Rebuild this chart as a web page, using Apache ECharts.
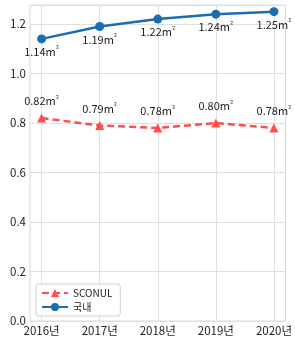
<!DOCTYPE html>
<html><head><meta charset="utf-8">
<script src="https://cdn.jsdelivr.net/npm/echarts@6/dist/echarts.min.js"></script>
<style>html,body{margin:0;padding:0;background:#fff}#c{width:295px;height:338px}</style>
</head><body><div id="c"></div>
<script>
const years = ['2016년','2017년','2018년','2019년','2020년'];
const sconul = [0.82, 0.79, 0.78, 0.80, 0.78];
const domestic = [1.14, 1.19, 1.22, 1.24, 1.25];
const yTicks = [0, 0.2, 0.4, 0.6, 0.8, 1.0, 1.2];

const font = "'Noto Sans CJK KR', 'Noto Sans', sans-serif";
const chart = echarts.init(document.getElementById('c'), null, {renderer:'canvas'});
const idx = years.map((_, i) => i);
const labelRich = {
  a: {fontSize: 11, color: '#222', fontFamily: font},
  b: {fontSize: 8, color: '#222', fontFamily: font, padding: [0, 0, 5, 0]}
};
const fmt = p => '{a|' + p.value[1].toFixed(2) + 'm}{b|²}';
chart.setOption({
  animation: false,
  textStyle: {fontFamily: font},
  grid: {left: 30, right: 6, top: 5, bottom: 17, show: true, borderColor: '#d9d9d9', borderWidth: 1},
  xAxis: {
    type: 'value', min: -0.2, max: 4.2,
    axisLine: {show: false},
    axisTick: {show: false, customValues: idx},
    axisLabel: {customValues: idx, formatter: v => years[Math.round(v)] || '', color: '#222', fontSize: 11.5, margin: 4, fontFamily: font},
    splitLine: {show: true, lineStyle: {color: '#e0e0e0', width: 1}}
  },
  yAxis: {
    type: 'value', min: 0, max: 1.277, interval: 0.2,
    axisLine: {show: false}, axisTick: {show: false},
    axisLabel: {customValues: yTicks, formatter: v => v.toFixed(1), color: '#222', fontSize: 11.5, margin: 4, fontFamily: font},
    splitLine: {show: true, lineStyle: {color: '#e0e0e0', width: 1}}
  },
  legend: {
    left: 36, top: 284, orient: 'vertical', itemGap: 4, itemWidth: 26, itemHeight: 10,
    padding: [4, 8, 4, 5],
    backgroundColor: '#fff', borderColor: '#d0d0d0', borderWidth: 1, borderRadius: 3,
    textStyle: {fontSize: 10, color: '#222', fontFamily: font},
    data: ['SCONUL', '국내']
  },
  series: [
    {
      name: 'SCONUL', type: 'line',
      data: sconul.map((v, i) => [i, v]),
      symbol: 'triangle', symbolSize: 9,
      lineStyle: {color: '#ff4d4d', width: 2.5, type: [7, 4]},
      itemStyle: {color: '#ff4d4d'},
      label: {show: true, position: 'top', distance: 6, formatter: fmt, rich: labelRich}
    },
    {
      name: '국내', type: 'line',
      data: domestic.map((v, i) => [i, v]),
      symbol: 'circle', symbolSize: 9,
      lineStyle: {color: '#1b6db0', width: 2.5},
      itemStyle: {color: '#1b6db0'},
      label: {show: true, position: 'bottom', distance: 2, formatter: fmt, rich: labelRich}
    }
  ]
});
</script></body></html>
